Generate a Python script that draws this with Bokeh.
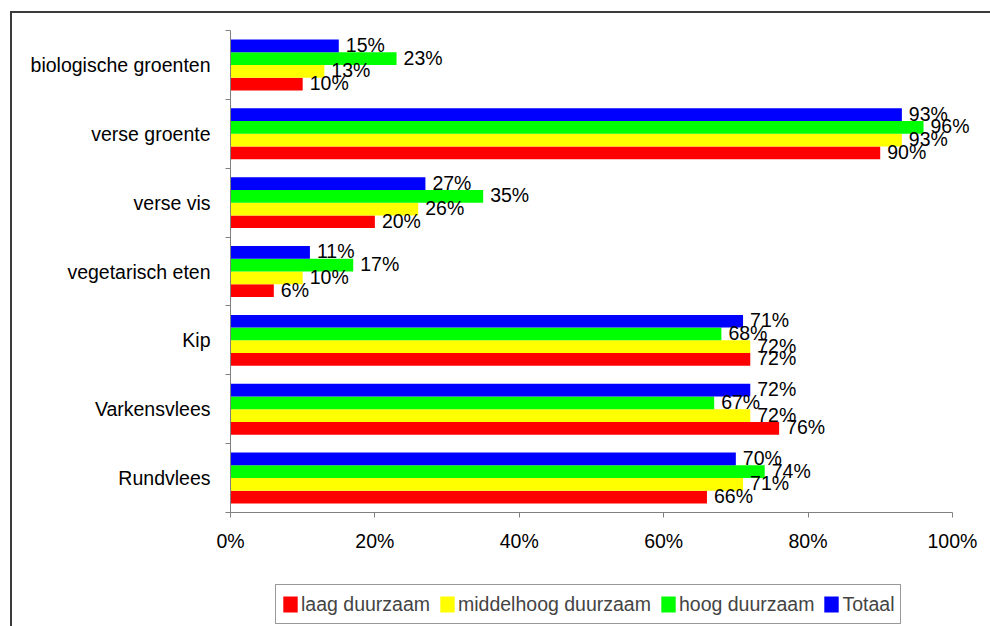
from bokeh.plotting import figure
from bokeh.models import (ColumnDataSource, FixedTicker, Legend, LegendItem,
                          LabelSet, Range1d, Column)
from bokeh.core.properties import value
from bokeh.transform import dodge
from bokeh.embed import file_html
from bokeh.resources import INLINE

# ---------------- data ----------------
categories = ["Rundvlees", "Varkensvlees", "Kip", "vegetarisch eten",
              "verse vis", "verse groente", "biologische groenten"]
laag = [66, 76, 72, 6, 20, 90, 10]
middelhoog = [71, 72, 72, 10, 26, 93, 13]
hoog = [74, 67, 68, 17, 35, 96, 23]
totaal = [70, 72, 71, 11, 27, 93, 15]
series_names = ["laag duurzaam", "middelhoog duurzaam", "hoog duurzaam", "Totaal"]
series_values = [laag, middelhoog, hoog, totaal]
series_colors = ["#FF0000", "#FFFF00", "#00FF00", "#0000FF"]
x_ticks = [0, 20, 40, 60, 80, 100]

font = "Liberation Sans"
fsize = "19.5px"
n = len(categories)
pos = [i + 0.5 for i in range(n)]
bar_h = 0.185

# ---------------- main chart ----------------
p = figure(width=990, height=584, output_backend="svg", toolbar_location=None,
           x_range=Range1d(0, 105), y_range=Range1d(0, n),
           min_border_left=230, min_border_right=2, min_border_top=30,
           min_border_bottom=72)
p.outline_line_color = None
p.xgrid.grid_line_color = None
p.ygrid.grid_line_color = None
p.background_fill_color = "white"
p.border_fill_color = None

renderers = []
for k, (name, vals, col) in enumerate(zip(series_names, series_values, series_colors)):
    src = ColumnDataSource(dict(y=pos, v=vals, t=[f"{v}%" for v in vals]))
    off = (k - 1.5) * bar_h
    r = p.hbar(y=dodge("y", off), right="v", left=0, height=bar_h, source=src,
               fill_color=col, line_color=None)
    renderers.append(r)
    lbl = LabelSet(x="v", y=dodge("y", off), text="t", source=src,
                   x_offset=7, y_offset=1, text_baseline="middle",
                   text_font=value(font), text_font_size=value(fsize),
                   text_color="black")
    p.add_layout(lbl)

xa = p.xaxis[0]
xa.bounds = (0, 100)
xa.ticker = FixedTicker(ticks=x_ticks)
xa.major_label_overrides = {t: f"{t}%" for t in x_ticks}
xa.axis_line_color = "#808080"
xa.major_tick_line_color = "#808080"
xa.major_tick_out = 5
xa.major_tick_in = 0
xa.minor_tick_line_color = None
xa.major_label_text_font = font
xa.major_label_text_font_size = fsize
xa.major_label_text_color = "black"
xa.major_label_standoff = 12

ya = p.yaxis[0]
ya.ticker = FixedTicker(ticks=pos, minor_ticks=list(range(n + 1)))
ya.major_label_overrides = {pp: c for pp, c in zip(pos, categories)}
ya.axis_line_color = "#808080"
ya.major_tick_line_color = None
ya.major_tick_out = 0
ya.major_tick_in = 0
ya.minor_tick_line_color = "#808080"
ya.minor_tick_out = 5
ya.minor_tick_in = 0
ya.major_label_text_font = font
ya.major_label_text_font_size = fsize
ya.major_label_text_color = "black"
ya.major_label_standoff = 15

# ---------------- legend strip ----------------
q = figure(width=990, height=42, output_backend="svg", toolbar_location=None,
           x_range=Range1d(0, 1), y_range=Range1d(0, 1),
           x_axis_location=None, y_axis_location=None,
           min_border_left=230, min_border_right=2, min_border_top=0, min_border_bottom=0)
q.outline_line_color = None
q.xgrid.grid_line_color = None
q.ygrid.grid_line_color = None
q.background_fill_color = None
q.border_fill_color = None
leg_renderers = []
for name, col in zip(series_names, series_colors):
    rb = q.hbar(y=[-10], right=[-10], left=-11, height=0.1, fill_color=col, line_color=None)
    leg_renderers.append(rb)

legend = Legend(items=[LegendItem(label=nm, renderers=[r]) for nm, r in zip(series_names, leg_renderers)],
                orientation="horizontal", location=(45, 2),
                label_text_font=font, label_text_font_size=fsize,
                glyph_width=18, glyph_height=20, label_height=28,
                label_standoff=2, spacing=8, padding=5, margin=0,
                border_line_color="#333333", border_line_width=1.5,
                background_fill_color="white", background_fill_alpha=1.0)
q.add_layout(legend)

layout = Column(children=[p, q], spacing=0, styles={
    "background-color": "white",
    "background-image": "linear-gradient(#3a3a3a, #3a3a3a), linear-gradient(#3a3a3a, #3a3a3a)",
    "background-size": "2px 100%, 100% 2px",
    "background-position": "10px 11px, 10px 11px",
    "background-repeat": "no-repeat",
})

open("out.html", "w").write(file_html(layout, INLINE))
